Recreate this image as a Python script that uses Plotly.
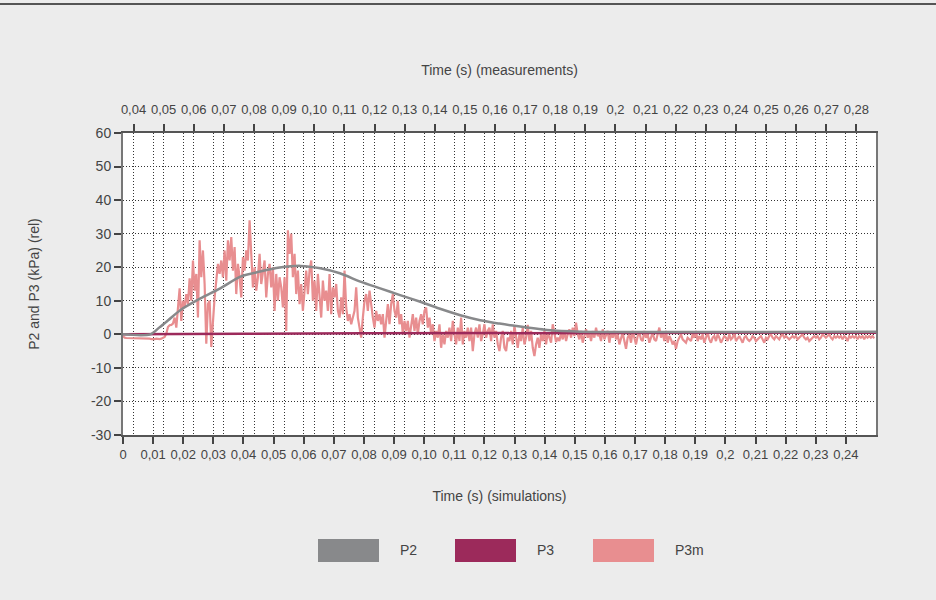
import numpy as np
import plotly.graph_objects as go

# ---------------- data ----------------
SERIES_NAMES = ["P2", "P3", "P3m"]
SERIES_COLORS = ["#88898b", "#9c2a5b", "#e88e90"]

# P2 (simulation, smooth)
P2_T = [0, 0.009, 0.012, 0.015, 0.019, 0.0257, 0.0323, 0.039, 0.0455, 0.052, 0.0589,
        0.0655, 0.072, 0.0788, 0.0854, 0.092, 0.0987, 0.105, 0.112, 0.1186, 0.125,
        0.1295, 0.1408, 0.152, 0.165, 0.2, 0.25]
P2_V = [0, 0, 2, 4.2, 7.2, 10.7, 13.7, 17.2, 18.7, 19.9, 20.4,
        19.7, 18.2, 15.7, 13.7, 11.7, 9.7, 7.7, 5.7, 4.2, 3.2,
        2.6, 1.3, 0.8, 0.7, 0.7, 0.8]

# P3 (simulation)
P3_T = [0, 0.009, 0.04, 0.08, 0.12, 0.16, 0.2, 0.25]
P3_V = [0, 0, 0.15, 0.3, 0.4, 0.45, 0.45, 0.45]

# P3m (measurement), sampled every P3M_DT seconds starting at P3M_T0
P3M_T0 = 0.0
P3M_DT = 0.000553
P3M_V = [
    # start
    -0.6, -1.0, -1.1, -1.1, -1.2, -1.2, -1.2, -1.3, -1.3, -1.3,
    # rise and peak region
    -1.2, -1.2, -1.3, -1.3, -1.3, -1.2, -1.3, -1.4, -1.5, -1.4,
    -1.3, -1.4, -1.4, -1.3, -1.1, -0.8, 0.2, 2.2, 2.7, 2.8,
    3.2, 5, 2, 7, 13.7, 4, 10, 8, 12, 9,
    16.7, 10, 22, 13, 18, 5, 28, 17, 25, 15,
    -2.8, 9, 10, -3.8, 4, 11, 16, 21, 18, 22,
    17, 25, 16, 28, 22, 29, 19, 26, 12, 21,
    17, 11, 23, 19, 25, 22, 34, 25, 14, 20,
    13, 17, 24, 15, 19, 22, 11, 18, 21, 14,
    20, 7, 18, 10, 17, 14, 8, 17, 1, 31,
    24, 30, 17, 24, 12, 19, 9, 15, 7, 13,
    19, 12,
    # decay
    19, 22, 10, 16, 7, 18, 12, 5, 16, 10,
    13, 7, 18, 6, 14, 11, 15, 7, 5, 11,
    6, 19, 8, 4, 6, 3, 5, 7, 14, 5,
    2, -1, 5, 10, 12, 7, 13, 8, 5, 2,
    7, 4, 6, 3, 6, -1, 5, 9, 3, 9,
    12, 7, 5, 10, 3, 6, 0, 4, 1, 4,
    -1, 2, 6, 1, 5, 0, 4, 6, 3, 7,
    8, 2, 5, 0, 3, -2, 1, -1, 3, -4,
    0, -3, 1, -1, 2, -2, 4, 0, -3, 2,
    -2, 5, -3, 1, -1, 2, -2, 2, -5, 0,
    2, -1, 3, -2, 0, 3, -1, 1, 2, -2,
    3, -1, 1, -3, -5, -1, 1, -4, -5, -1,
    # tail
    -2, 1, -3, 2.5, -1, -4, 0, -2, 2, -3,
    -1, 2.8, -2, 1, -4, -6.5, -3, -1, -4, 0,
    -2, 1, -3, 0.5, -1, -2.5, 3, 0, -2.3, -1,
    -2, 0.5, -1.5, 1, -2, 0, 1.5, -1, 2, -0.5,
    3.5, 0, -1.5, 1, -2.5, -0.5, 1.5, -1, 0.5, -2,
    1, -1, 2, -0.5, 0, -2, 1.5, -1.5, 0, 1,
    -2.5, 0.5, -1, 1, -1.5, 0, -3, -1, 0.5, -2,
    -4.3, -1, 0, -2.5, 1, -1, -3, -0.5, 0.5, -1.5,
    -2, 1, -1, 0, -2.5, -1, 0.5, -1.5, -2, 0,
    2, -1, 0.5, -2, 1, -2.5, -0.5, -1.5, -3, -2,
    -4.3, -2, -1, 0, -1.5, -2, -2.5, -1, -1.5, -2,
    0, -1, 1, -2, -0.5, -1.5, 0, -2.5, -1, 0.5,
    -1.5, -2.5, -1, -0.5, -2, 0, -1, -2.5, -1.5, -0.5,
    -1, -2, 0, -1.5, -1, 0.5, -2, -1, -0.5, -1.5,
    -2.5, -1, -0.5, -1.5, -2, -1.5, -0.5, -1, -2, -1.5,
    -1, -0.5, -1.5, -2.5, -1, -1.5, -0.5, 0, -1, -1.5,
    -0.5, -1, -1.5, -0.5, 0, -1, -0.5, -1, -1.5, -1,
    -0.5, -1, -0.5, -1.5, -1, -0.5, 0, -1, -1.5, -1,
    -2, -1.5, -1, -0.5, -1, -0.5, -1.5, -1, 0, -0.5,
    -1, -0.5, 0, -1, -1.5, -0.5, -1, -0.5, -1, -0.5,
    -1.5, -0.5, -1, -2, -0.5, -1, -0.5, -1, -0.5, -1.5,
    -0.5, -1, -0.5, -1.5, -0.5, -1, -0.5, -1, -0.5, -1.2,
]
P3M_T = [P3M_T0 + i * P3M_DT for i in range(len(P3M_V))]

# axes
SIM_RANGE = [0, 0.25]
MEAS_OFFSET = 0.0365  # measurement time = simulation time + offset
SIM_TICKVALS = [round(0.01 * i, 2) for i in range(0, 25)]
SIM_TICKTEXT = ["0", "0,01", "0,02", "0,03", "0,04", "0,05", "0,06", "0,07", "0,08", "0,09",
                "0,10", "0,11", "0,12", "0,13", "0,14", "0,15", "0,16", "0,17", "0,18", "0,19",
                "0,2", "0,21", "0,22", "0,23", "0,24"]
MEAS_TICKVALS = [round(0.01 * i, 2) for i in range(4, 29)]
MEAS_TICKTEXT = ["0,04", "0,05", "0,06", "0,07", "0,08", "0,09", "0,10", "0,11", "0,12",
                 "0,13", "0,14", "0,15", "0,16", "0,17", "0,18", "0,19", "0,2", "0,21",
                 "0,22", "0,23", "0,24", "0,25", "0,26", "0,27", "0,28"]
Y_RANGE = [-30, 60]
Y_TICKVALS = [-30, -20, -10, 0, 10, 20, 30, 40, 50, 60]
Y_TICKTEXT = ["-30", "-20", "-10", "0", "10", "20", "30", "40", "50", "60"]

X_TITLE = "Time (s) (simulations)"
X2_TITLE = "Time (s) (measurements)"
Y_TITLE = "P2 and P3 (kPa) (rel)"

# ---------------- figure ----------------
W, H = 936, 600
ML, MR, MT, MB = 123, 60, 133, 165
PW, PH = W - ML - MR, H - MT - MB

FONT = "Liberation Sans, Arial, sans-serif"
TXT = "#444444"
GRID = "#333333"

fig = go.Figure()
fig.add_trace(go.Scatter(x=P3M_T, y=P3M_V, mode="lines", name="P3m",
                         line=dict(color=SERIES_COLORS[2], width=2.2), showlegend=False))
fig.add_trace(go.Scatter(x=P3_T, y=P3_V, mode="lines", name="P3",
                         line=dict(color=SERIES_COLORS[1], width=2.5), showlegend=False))
fig.add_trace(go.Scatter(x=P2_T, y=P2_V, mode="lines", name="P2",
                         line=dict(color=SERIES_COLORS[0], width=2.5, shape="spline", smoothing=0.8),
                         showlegend=False))
# invisible trace anchoring the measurement axis
fig.add_trace(go.Scatter(x=[SIM_RANGE[0] + MEAS_OFFSET, SIM_RANGE[1] + MEAS_OFFSET], y=[0, 0],
                         xaxis="x2", yaxis="y", mode="lines", opacity=0,
                         hoverinfo="skip", showlegend=False))

axis_font = dict(family=FONT, size=13, color=TXT)
fig.update_layout(
    width=W, height=H,
    margin=dict(l=ML, r=MR, t=MT, b=MB, pad=0),
    paper_bgcolor="#ececec", plot_bgcolor="#ffffff",
    font=dict(family=FONT, size=13, color=TXT),
    showlegend=False,
    xaxis=dict(range=SIM_RANGE, tickvals=SIM_TICKVALS, ticktext=SIM_TICKTEXT,
               tickfont=axis_font, ticks="outside", ticklen=7, tickwidth=1.5, tickcolor="#444",
               showline=True, linecolor="#555", linewidth=1.5,
               showgrid=True, gridcolor=GRID, gridwidth=1, griddash="1px,2px",
               zeroline=False,
               title=dict(text=X_TITLE, font=dict(family=FONT, size=14, color=TXT), standoff=30)),
    xaxis2=dict(range=[SIM_RANGE[0] + MEAS_OFFSET, SIM_RANGE[1] + MEAS_OFFSET],
                overlaying="x", side="top", anchor="y",
                tickvals=MEAS_TICKVALS, ticktext=MEAS_TICKTEXT,
                tickfont=axis_font, ticks="outside", ticklen=7, tickwidth=1.5, tickcolor="#444",
                ticklabelstandoff=5,
                showline=True, linecolor="#555", linewidth=1.5,
                showgrid=True, gridcolor=GRID, gridwidth=1, griddash="1px,2px",
                zeroline=False,
                title=dict(text=X2_TITLE, font=dict(family=FONT, size=14, color=TXT), standoff=23)),
    yaxis=dict(range=Y_RANGE, tickvals=Y_TICKVALS, ticktext=Y_TICKTEXT,
               tickfont=dict(family=FONT, size=14, color=TXT),
               ticks="outside", ticklen=7, tickwidth=1.5, tickcolor="#444",
               showline=True, linecolor="#777", linewidth=2, mirror=True,
               showgrid=True, gridcolor=GRID, gridwidth=1, griddash="1px,2px",
               zeroline=False,
               title=dict(text=Y_TITLE, font=dict(family=FONT, size=14, color=TXT), standoff=48)),
)

# top border line of the panel
fig.add_shape(type="line", xref="paper", yref="paper",
              x0=-ML / PW, x1=(W - ML) / PW, y0=(H - MB - 4) / PH, y1=(H - MB - 4) / PH,
              line=dict(color="#555555", width=2))

# custom legend (wide colour swatches)
LEG_SWATCH_X = [318, 455, 593]
SW_W, SW_Y0, SW_Y1 = 61, 539, 562
for name, color, sx in zip(SERIES_NAMES, SERIES_COLORS, LEG_SWATCH_X):
    fig.add_shape(type="rect", xref="paper", yref="paper",
                  x0=(sx - ML) / PW, x1=(sx + SW_W - ML) / PW,
                  y0=(H - MB - SW_Y1) / PH, y1=(H - MB - SW_Y0) / PH,
                  fillcolor=color, line=dict(width=0))
    fig.add_annotation(xref="paper", yref="paper", x=(sx + SW_W + 19 - ML) / PW,
                       y=(H - MB - 550) / PH, text=name, showarrow=False,
                       xanchor="left", yanchor="middle",
                       font=dict(family=FONT, size=14, color=TXT))

fig.write_html("out.html", config={"displayModeBar": False},
               post_script="document.body.style.margin='0px';document.body.style.overflow='hidden';")
